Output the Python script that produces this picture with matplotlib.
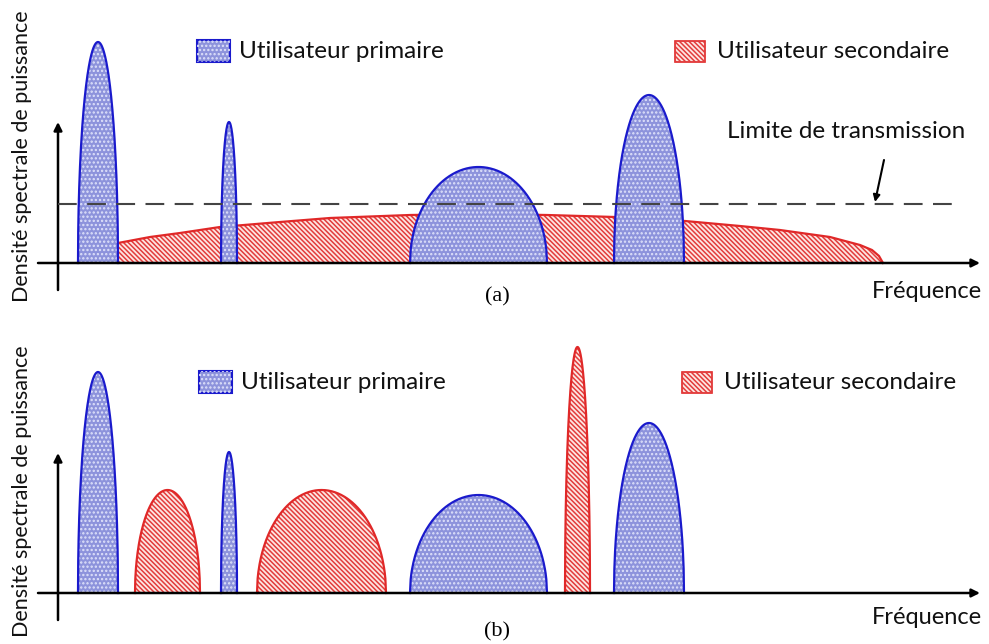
import numpy as np
import matplotlib
matplotlib.use('Agg')
import matplotlib.pyplot as plt
from matplotlib.patches import Rectangle

plt.rcParams['font.family'] = ['Lato', 'DejaVu Sans']

# lobes: (debut, fin, hauteur) en unites de frequence / DSP
prim_a = [(78, 118, 221), (221, 237, 141), (410, 547, 96), (614, 684, 168)]
prim_b = [(78, 118, 221), (221, 237, 141), (410, 547, 98), (614, 684, 170)]
sec_b = [(135, 200, 103), (257, 386, 103), (565, 590, 246)]

# enveloppe de l'utilisateur secondaire (a)
sec_a_x = [118, 150, 180, 220, 280, 330, 410, 480, 547, 615, 685, 740, 780, 830, 860, 872, 879, 883]
sec_a_y = [20, 26, 30, 36, 41, 45, 48, 49, 48, 46, 42, 37, 33, 26, 18, 13, 7, 0]
limite = 59

BLUE_FACE = '#8d93dc'
BLUE_EDGE = '#1a1acc'
RED_FACE = '#fde6e2'
RED_EDGE = '#e02828'
RED_HATCH = '\\' * 7
BLUE_HATCH = '....'

plt.rcParams['hatch.linewidth'] = 1.1


def remplir(ax, x, y, face, hatchcol, hatch, edge, z):
    ax.fill_between(x, 0, y, facecolor=face, linewidth=0, zorder=z)
    ax.fill_between(x, 0, y, facecolor='none', edgecolor=hatchcol, hatch=hatch, linewidth=0, zorder=z)
    ax.plot(x, y, color=edge, lw=1.6, zorder=z + 0.1)


def lobe(ax, a, b, h, primaire, z):
    t = np.linspace(-1, 1, 200)
    x = (a + b) / 2 + t * (b - a) / 2
    y = h * np.sqrt(np.clip(1 - t ** 2, 0, 1))
    if primaire:
        remplir(ax, x, y, BLUE_FACE, '#dfe2fa', BLUE_HATCH, BLUE_EDGE, z)
    else:
        remplir(ax, x, y, RED_FACE, '#e23c3c', RED_HATCH, RED_EDGE, z)


def legende(ax, x, y, primaire, texte):
    if primaire:
        ax.add_patch(Rectangle((x, y - 11), 33, 22, facecolor=BLUE_FACE, edgecolor=BLUE_EDGE, lw=1.5, zorder=5))
        ax.add_patch(Rectangle((x, y - 11), 33, 22, facecolor='none', edgecolor='#dfe2fa', hatch=BLUE_HATCH, lw=0, zorder=5))
    else:
        ax.add_patch(Rectangle((x, y - 11), 30, 21, facecolor=RED_FACE, edgecolor=RED_EDGE, lw=1.2, zorder=5))
        ax.add_patch(Rectangle((x, y - 11), 30, 21, facecolor='none', edgecolor='#e23c3c', hatch=RED_HATCH, lw=0, zorder=5))
    ax.text(x + 42, y, texte, fontsize=17.5, va='center', ha='left', color='#111111')


def axes_fleches(ax, top):
    ax.annotate('', xy=(980, 0), xytext=(38, 0),
                arrowprops=dict(arrowstyle='-|>', lw=1.8, color='black', mutation_scale=12, shrinkA=0, shrinkB=0), zorder=6)
    ax.annotate('', xy=(58, top), xytext=(58, -27),
                arrowprops=dict(arrowstyle='-|>', lw=1.8, color='black', mutation_scale=12, shrinkA=0, shrinkB=0), zorder=6)


fig = plt.figure(figsize=(9.89, 6.44), dpi=100)

# ---- (a) ----
ax1 = fig.add_axes([0, 324 / 644, 1, 320 / 644])
ax1.set_xlim(0, 989)
ax1.set_ylim(-57, 263)
ax1.axis('off')
remplir(ax1, sec_a_x, sec_a_y, RED_FACE, '#e23c3c', RED_HATCH, RED_EDGE, 2)
for a, b, h in prim_a:
    lobe(ax1, a, b, h, True, 3)
ax1.plot([58, 962], [limite, limite], color='#444444', lw=1.5, dashes=(9, 5), zorder=7)
axes_fleches(ax1, 141)
legende(ax1, 197, 212, True, 'Utilisateur primaire')
legende(ax1, 675, 212, False, 'Utilisateur secondaire')
ax1.text(846, 132, 'Limite de transmission', fontsize=17.5, ha='center', va='center', color='#111111')
ax1.annotate('', xy=(875, 61), xytext=(884, 103),
             arrowprops=dict(arrowstyle='-|>', lw=1.5, color='black', mutation_scale=10, shrinkA=0, shrinkB=0))
ax1.text(982, -28, 'Fréquence', fontsize=17, ha='right', va='center', color='#111111')
ax1.text(497, -34, '(a)', fontsize=16, ha='center', va='center', family='Liberation Serif')
ax1.text(22, 107, 'Densité spectrale de puissance', fontsize=15.5, rotation=90, ha='center', va='center', color='#111111')

# ---- (b) ----
ax2 = fig.add_axes([0, 0, 1, 324 / 644])
ax2.set_xlim(0, 989)
ax2.set_ylim(-51, 273)
ax2.axis('off')
for a, b, h in sec_b:
    lobe(ax2, a, b, h, False, 2)
for a, b, h in prim_b:
    lobe(ax2, a, b, h, True, 3)
axes_fleches(ax2, 140)
legende(ax2, 199, 211, True, 'Utilisateur primaire')
legende(ax2, 682, 211, False, 'Utilisateur secondaire')
ax2.text(982, -24, 'Fréquence', fontsize=17, ha='right', va='center', color='#111111')
ax2.text(497, -39, '(b)', fontsize=16, ha='center', va='center', family='Liberation Serif')
ax2.text(22, 102, 'Densité spectrale de puissance', fontsize=15.5, rotation=90, ha='center', va='center', color='#111111')

fig.savefig('out.png', dpi=100)
